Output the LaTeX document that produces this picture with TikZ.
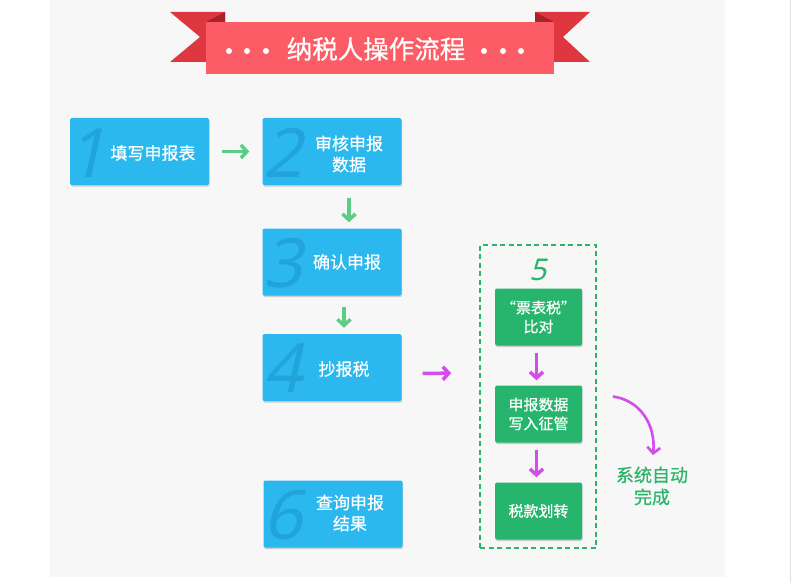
\documentclass[tikz,border=0pt]{standalone}
\usepackage{fontspec}
\setmainfont{Noto Sans CJK SC}
\newfontfamily\bcjk[FakeBold=0.6]{Noto Sans CJK SC}
\newfontfamily\numfont[FakeSlant=0.22]{Noto Sans}
\usetikzlibrary{arrows.meta,shadows,calc}
\definecolor{bgc}{HTML}{F7F7F7}
\definecolor{boxblue}{HTML}{2BB8EF}
\definecolor{numblue}{HTML}{21A4DA}
\definecolor{boxgreen}{HTML}{27B46C}
\definecolor{txtgreen}{HTML}{2DB46A}
\definecolor{arrgreen}{HTML}{5ECB86}
\definecolor{arrmag}{HTML}{D24DEA}
\definecolor{bannerred}{HTML}{FC5C65}
\definecolor{earred}{HTML}{DF3740}
\definecolor{foldred}{HTML}{A8222B}
\tikzset{
  bluebox/.style={fill=boxblue, rounded corners=2pt, minimum width=139pt, minimum height=67pt,
    drop shadow={shadow xshift=0.6pt, shadow yshift=-1.6pt, opacity=0.35}, inner sep=0pt},
  greenbox/.style={fill=boxgreen, rounded corners=1.5pt, minimum width=87pt, minimum height=57pt,
    drop shadow={shadow xshift=0.6pt, shadow yshift=-1.6pt, opacity=0.35}, inner sep=0pt,
    text=white, font=\bcjk\fontsize{15}{19}\selectfont, align=center},
  boxtext/.style={text=white, font=\bcjk\fontsize{17}{21}\selectfont, align=center},
  bignum/.style={text=numblue, font=\numfont\fontsize{68}{68}\selectfont},
  garrow/.style={draw=arrgreen, line width=3.5pt, -{Straight Barb[length=6pt,width=13pt]}},
  marrow/.style={draw=arrmag, line width=3.5pt, -{Straight Barb[length=6pt,width=13pt]}},
}
\begin{document}
\begin{tikzpicture}[x=1pt,y=-1pt]
\useasboundingbox (0,0) rectangle (800,583);
\fill[white] (0,0) rectangle (800,583);
\fill[bgc] (50,0) rectangle (725,577);
\draw[black!12, line width=1pt] (790,0) -- (790,583);
% banner
\fill[earred] (170,12) -- (225,12) -- (225,62) -- (170,62) -- (200,37) -- cycle;
\fill[earred] (590,12) -- (535,12) -- (535,62) -- (590,62) -- (563,37) -- cycle;
\fill[foldred] (206,22) -- (225,12) -- (225,22) -- cycle;
\fill[foldred] (554,22) -- (535,12) -- (535,22) -- cycle;
\fill[bannerred] (206,22) rectangle (554,74);
\node[text=white, font=\bcjk\fontsize{25.5}{28}\selectfont] (title) at (376,49) {纳税人操作流程};
\foreach \i/\x in {d1/229,d2/247,d3/266,d4/484,d5/503,d6/521}
  \fill[white] (\x,51) circle (3pt);
% blue boxes
\node[bluebox] (b1) at (139.5,151.5) {};
\node[bluebox] (b2) at (332,151.5) {};
\node[bluebox] (b3) at (332,262) {};
\node[bluebox] (b4) at (332,367.5) {};
\node[bluebox] (b6) at (333,514) {};
\node[bignum] (n1) at (87,153) {1};
\node[bignum] (n2) at (283,153) {2};
\node[bignum] (n3) at (283,263) {3};
\node[bignum] (n4) at (283,368) {4};
\node[bignum] (n6) at (283,515) {6};
\node[boxtext] (t1) at (153,153) {填写申报表};
\node[boxtext] (t2) at (349,154) {审核申报\\数据};
\node[boxtext] (t3) at (347,262) {确认申报};
\node[boxtext] (t4) at (344,369) {抄报税};
\node[boxtext] (t6) at (350,513) {查询申报\\结果};
% green arrows
\draw[garrow, shorten <=13pt, shorten >=13pt] (b1.east) -- (b2.west);
\draw[garrow, shorten <=13pt, shorten >=6pt] ($(b2.south)+(17,0)$) -- ($(b3.north)+(17,0)$);
\draw[garrow, shorten <=11pt, shorten >=6pt] ($(b3.south)+(12,0)$) -- ($(b4.north)+(12,0)$);
% dashed group
\node[draw=txtgreen, dashed, line width=1.6pt, dash pattern=on 5pt off 3.5pt,
  minimum width=116pt, minimum height=303pt, inner sep=0pt] (grp) at (538,396.5) {};
\node[text=txtgreen, font=\numfont\fontsize{30}{30}\selectfont] (n5) at (538,270) {5};
\node[greenbox] (g1) at (538.5,317) {“票表税”\\比对};
\node[greenbox] (g2) at (538.5,414) {申报数据\\写入征管};
\node[greenbox] (g3) at (538.5,511) {税款划转};
\draw[marrow, shorten <=21pt, shorten >=28pt] ($(b4.east)+(0,6)$) -- ($(grp.west)+(0,-23.5)$);
\draw[marrow, shorten <=7pt, shorten >=5pt] ($(g1.south)+(-2,0)$) -- ($(g2.north)+(-2,0)$);
\draw[marrow, shorten <=7pt, shorten >=5pt] ($(g2.south)+(-2,0)$) -- ($(g3.north)+(-2,0)$);
\node[text=txtgreen, font=\bcjk\fontsize{18}{22}\selectfont, align=center] (auto) at (652,486) {系统自动\\完成};
\coordinate (cs) at ($(grp.east)+(16,0)$);
\draw[marrow, line width=2.6pt] (cs) .. controls (640,400) and (656,425) .. ($(auto.north)+(1,-8)$);
\end{tikzpicture}
\end{document}
